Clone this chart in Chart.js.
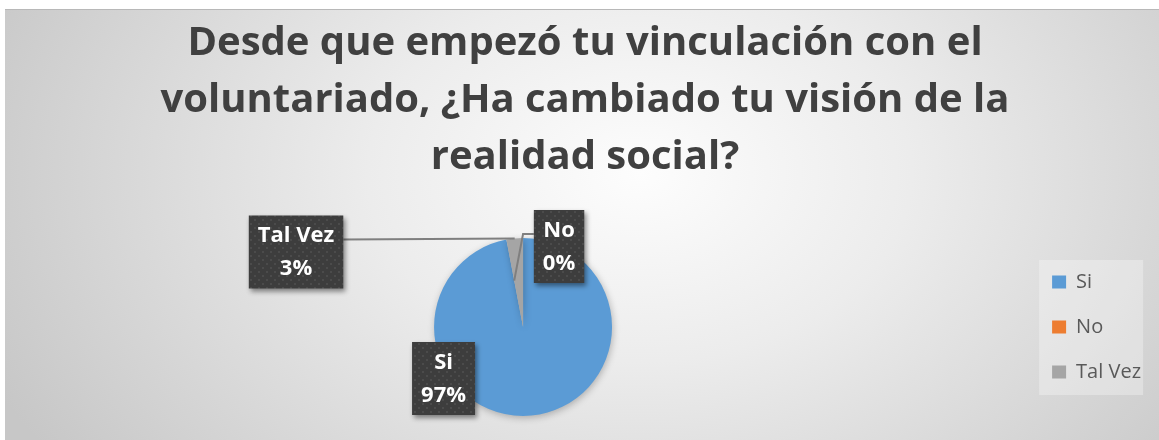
<!DOCTYPE html>
<html>
<head>
<meta charset="utf-8">
<script src="https://cdn.jsdelivr.net/npm/chart.js@4.4.1/dist/chart.umd.min.js"></script>
<style>
  body { margin: 0; background: #ffffff; }
  #marco {
    position: absolute; left: 5px; top: 9px; width: 1154px; height: 430px;
    border-top: 1px solid #b8b8b8;
    background: radial-gradient(ellipse 62% 115% at 55% 38%, #fdfdfd 0%, #ececec 38%, #c7c7c7 100%);
  }
</style>
</head>
<body>
<div id="marco"><canvas id="grafico" width="1154" height="430"></canvas></div>
<script>
var categorias = ['Si', 'No', 'Tal Vez']
var porcentajes = [97, 0, 3]
var colores = ['#5B9BD5', '#ED7D31', '#A5A5A5']
var tituloLineas = ['Desde que empezó tu vinculación con el', 'voluntariado, ¿Ha cambiado tu visión de la', 'realidad social?']

// patron de puntos para las cajas de etiquetas
function crearPatron(ctx) {
   var tile = document.createElement('canvas')
   tile.width = 8
   tile.height = 8
   var t = tile.getContext('2d')
   t.fillStyle = '#3d3d3d'
   t.fillRect(0, 0, 8, 8)
   t.fillStyle = '#4b4b4b'
   t.fillRect(1, 1, 2, 2)
   t.fillRect(5, 5, 2, 2)
   return ctx.createPattern(tile, 'repeat')
}

const fondoLeyenda = {
   id: 'fondoLeyenda',
   beforeDraw(chart) {
      const lg = chart.legend
      const pad = lg.options.labels.padding
      const y0 = (lg.top + pad + lg.bottom - lg.columnSizes[0].height) / 2
      const ctx = chart.ctx
      ctx.save()
      ctx.fillStyle = 'rgba(255,255,255,0.3)'
      ctx.fillRect(lg.left + pad - 13, y0 - 12, 104, 135)
      ctx.restore()
   },
   beforeDatasetsDraw(chart) {
      const ctx = chart.ctx
      ctx.save()
      ctx.shadowColor = 'rgba(0,0,0,0.25)'
      ctx.shadowBlur = 7
      ctx.shadowOffsetX = 1
      ctx.shadowOffsetY = 2
   },
   afterDatasetsDraw(chart) {
      chart.ctx.restore()
   }
}

const etiquetasCaja = {
   id: 'etiquetasCaja',
   afterDraw(chart, args, opts) {
      const ctx = chart.ctx
      const arcos = chart.getDatasetMeta(0).data
      const patron = crearPatron(ctx)
      ctx.save()
      ctx.font = 'bold 22px "Open Sans"'
      arcos.forEach((arco, i) => {
         const cx = arco.x + opts.offsets[i][0]
         const cy = arco.y + opts.offsets[i][1]
         const lineas = [categorias[i], porcentajes[i] + '%']
         const ancho = Math.max(...lineas.map(l => ctx.measureText(l).width)) + 18
         const alto = 73
         const izq = cx - ancho / 2
         const arriba = cy - alto / 2

         // linea guia
         const guia = opts.guias[i]
         if (guia) {
            const medio = (arco.startAngle + arco.endAngle) / 2
            const fx = arco.x + Math.cos(medio) * arco.outerRadius * guia.r
            const fy = arco.y + Math.sin(medio) * arco.outerRadius * guia.r
            const sx = fx < cx ? izq : izq + ancho
            const sy = cy - 12.5
            ctx.strokeStyle = '#7f7f7f'
            ctx.lineWidth = 2
            ctx.beginPath()
            ctx.moveTo(sx, sy)
            if (guia.codo) ctx.lineTo(arco.x, sy)
            ctx.lineTo(fx, fy)
            ctx.stroke()
         }

         ctx.save()
         ctx.shadowColor = 'rgba(0,0,0,0.45)'
         ctx.shadowBlur = 5
         ctx.shadowOffsetX = 2
         ctx.shadowOffsetY = 3
         ctx.fillStyle = patron
         ctx.fillRect(izq, arriba, ancho, alto)
         ctx.restore()

         ctx.fillStyle = '#ffffff'
         ctx.textAlign = 'center'
         ctx.textBaseline = 'middle'
         ctx.fillText(lineas[0], cx, cy - 16)
         ctx.fillText(lineas[1], cx, cy + 17)
      })
      ctx.restore()
   }
}

new Chart(document.getElementById('grafico'), {
   type: 'pie',
   data: {
      labels: categorias,
      datasets: [{
         data: porcentajes,
         backgroundColor: colores,
         borderWidth: 0
      }]
   },
   options: {
      responsive: false,
      animation: false,
      radius: 89,
      layout: { padding: { left: 14, right: 8, top: 0, bottom: 0 } },
      plugins: {
         title: {
            display: true,
            text: tituloLineas,
            color: '#404040',
            font: { family: 'Open Sans', size: 40, weight: 'bold', lineHeight: 57 / 40 },
            padding: { top: 5, bottom: 28 }
         },
         legend: {
            position: 'right',
            fullSize: false,
            labels: {
               boxWidth: 14,
               boxHeight: 13,
               padding: 25,
               color: '#595959',
               font: { family: 'Open Sans', size: 20 }
            }
         },
         tooltip: { enabled: false },
         etiquetasCaja: {
            offsets: [[-79.5, 51.5], [36, -80.5], [-227, -75]],
            guias: [null, { r: 0.53, codo: true }, { r: 1 }]
         }
      }
   },
   plugins: [fondoLeyenda, etiquetasCaja]
})
</script>
</body>
</html>
